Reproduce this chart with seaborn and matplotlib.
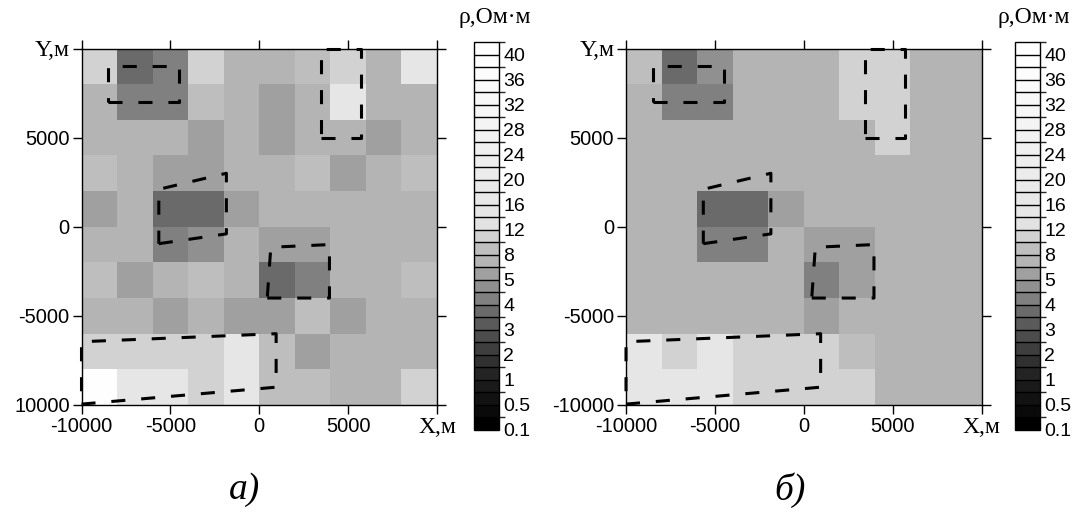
import numpy as np
import pandas as pd
import matplotlib
matplotlib.use("Agg")
import matplotlib.pyplot as plt
import seaborn as sns
from matplotlib.colors import ListedColormap, BoundaryNorm
from matplotlib.transforms import Affine2D

sns.set_theme(style="white")
plt.rcParams['font.family'] = ['Liberation Sans', 'DejaVu Sans']

# ---------------- data ----------------
cell_size = 2000
x_centers = list(range(-9000, 10000, 2000))            # west -> east
y_centers = list(range(9000, -10000, -2000))           # north -> south

# resistivity, Ohm*m (rows north -> south, columns west -> east)
rho_a = [
    [11, 3.7, 4.2, 11, 7, 7, 9, 11, 7, 15],
    [7, 4.2, 4.2, 9, 7, 5.5, 7, 15, 7, 7],
    [7, 7, 7, 5.5, 7, 5.5, 7, 7, 5.5, 7],
    [9, 7, 5.5, 5.5, 7, 7, 9, 5.5, 7, 9],
    [5.5, 7, 3.7, 3.7, 5.5, 7, 7, 7, 7, 7],
    [7, 7, 4.2, 4.7, 7, 5.5, 5.5, 7, 7, 7],
    [9, 5.5, 7, 9, 7, 3.7, 4.2, 7, 7, 9],
    [7, 7, 5.5, 7, 5.5, 5.5, 9, 5.5, 7, 7],
    [11, 11, 11, 11, 15, 9, 5.5, 7, 7, 7],
    [39, 15, 15, 11, 15, 9, 9, 7, 7, 11],
]
rho_b = [
    [9, 3.7, 4.7, 7, 7, 7, 11, 11, 7, 7],
    [7, 4.2, 4.2, 7, 7, 7, 11, 11, 7, 7],
    [7, 7, 7, 7, 7, 7, 7, 11, 7, 7],
    [7, 7, 7, 7, 7, 7, 7, 7, 7, 7],
    [7, 7, 3.7, 3.7, 5.5, 7, 7, 7, 7, 7],
    [7, 7, 4.2, 4.2, 7, 5.5, 5.5, 7, 7, 7],
    [7, 7, 7, 7, 7, 4.2, 5.5, 7, 7, 7],
    [7, 7, 7, 7, 7, 5.5, 7, 7, 7, 7],
    [15, 11, 15, 11, 11, 11, 9, 7, 7, 7],
    [15, 15, 15, 11, 11, 11, 11, 7, 7, 7],
]

# contour levels of the colour scale and their grey tones (0..255)
levels = [0.1, 0.3, 0.5, 0.75, 1, 1.5, 2, 2.5, 3, 3.5, 4, 4.5, 5, 6.5, 8, 10,
          12, 14, 16, 18, 20, 22, 24, 26, 28, 30, 32, 34, 36, 38, 40, 44]
greys = [0, 10, 18, 26, 36, 48, 62, 76, 90, 106, 128, 144, 160, 180, 190, 210,
         226, 230, 232, 234, 236, 238, 240, 242, 244, 246, 248, 250, 252, 254, 255]
cbar_ticks = [0.1, 0.5, 1, 2, 3, 4, 5, 8, 12, 16, 20, 24, 28, 32, 36, 40]
cbar_labels = ["0.1", "0.5", "1", "2", "3", "4", "5", "8", "12", "16", "20",
               "24", "28", "32", "36", "40"]

x_ticks = [-10000, -5000, 0, 5000, 10000]
x_ticklabels = ["-10000", "-5000", "0", "5000", "X,м"]
y_ticks = [-10000, -5000, 0, 5000, 10000]
y_ticklabels_a = ["10000", "-5000", "0", "5000", "Y,м"]
y_ticklabels_b = ["-10000", "-5000", "0", "5000", "Y,м"]

# outlines of the model bodies (x, y in metres)
body1_x = [-8500, -4500, -4500, -8500, -8500]
body1_y = [7000, 7000, 9000, 9000, 7000]
body2_x = [3450, 5700, 5700, 3450, 3450]
body2_y = [5000, 5000, 10000, 10000, 5000]
body3_x = [-5650, -1850, -1850, -5650, -5650]
body3_y = [-950, -400, 3000, 2100, -950]
body4_x = [450, 3950, 3950, 650, 450]
body4_y = [-4000, -4000, -1000, -1150, -4000]
body5_x = [-10000, 950, 950, -10000, -10000]
body5_y = [-9950, -9000, -6000, -6450, -9950]
bodies = [(body1_x, body1_y), (body2_x, body2_y), (body3_x, body3_y),
          (body4_x, body4_y), (body5_x, body5_y)]

cbar_title = "ρ,Ом·м"
panel_titles = ["а)", "б)"]

# ---------------- figure ----------------
W, H = 1075, 518
fig = plt.figure(figsize=(W / 100, H / 100), dpi=100)


def rect(x0, y0, x1, y1):
    return [x0 / W, 1 - y1 / H, (x1 - x0) / W, (y1 - y0) / H]


cmap = ListedColormap([(g / 255, g / 255, g / 255) for g in greys])
norm = BoundaryNorm(levels, cmap.N)

panels = [
    dict(data=rho_a, ylabels=y_ticklabels_a, ax=(81.5, 48.5, 437, 405),
         cax=(474, 42, 499, 430), title_xy=(244, 490), cbt_x=495),
    dict(data=rho_b, ylabels=y_ticklabels_b, ax=(626, 48.5, 981.5, 405),
         cax=(1015, 42, 1040, 430), title_xy=(790, 490), cbt_x=1034),
]

serif = ['Liberation Serif', 'DejaVu Serif']

for i, p in enumerate(panels):
    ax = fig.add_axes(rect(*p["ax"]))
    cax = fig.add_axes(rect(*p["cax"]))
    df = pd.DataFrame(p["data"], index=y_centers, columns=x_centers)
    sns.heatmap(df, ax=ax, cmap=cmap, norm=norm, cbar_ax=cax,
                cbar_kws=dict(ticks=cbar_ticks, drawedges=True),
                xticklabels=False, yticklabels=False)
    ax.set_xlabel("")
    ax.set_ylabel("")
    n_rows, n_cols = df.shape
    # metres -> heatmap cell coordinates
    tr = (Affine2D().scale(1 / cell_size, -1 / cell_size)
          .translate(n_cols / 2, n_rows / 2) + ax.transData)
    to_cx = lambda v: v / cell_size + n_cols / 2
    to_cy = lambda v: -v / cell_size + n_rows / 2

    for bx, by in bodies:
        ax.plot(bx, by, transform=tr, color='black', lw=2.2,
                linestyle=(0, (4.6, 5.2)), dash_capstyle='butt',
                clip_on=False, zorder=5)

    ax.set_xlim(0, n_cols)
    ax.set_ylim(n_rows, 0)
    ax.set_xticks([to_cx(v) for v in x_ticks])
    ax.set_xticklabels(x_ticklabels, rotation=0)
    ax.set_yticks([to_cy(v) for v in y_ticks])
    ax.set_yticklabels(p["ylabels"], rotation=0)
    ax.tick_params(axis='both', which='major', direction='out', length=6.5,
                   width=1, color='black', top=True, right=True, bottom=True,
                   left=True, labeltop=False, labelright=False,
                   labelsize=14.5, labelcolor='black', pad=2)
    for s in ax.spines.values():
        s.set_visible(True)
        s.set_color('black')
        s.set_linewidth(1)
    xl = ax.get_xticklabels()[-1]
    xl.set_fontfamily(serif)
    xl.set_fontsize(17)
    yl = ax.get_yticklabels()[-1]
    yl.set_fontfamily(serif)
    yl.set_fontsize(17)

    cb = ax.collections[0].colorbar
    cb.set_ticks(cbar_ticks, labels=cbar_labels)
    cb.outline.set_visible(True)
    cb.outline.set_edgecolor('black')
    cb.outline.set_linewidth(1)
    cb.dividers.set_color('black')
    cb.dividers.set_linewidth(1)
    cb.ax.tick_params(length=0, labelsize=14, pad=3, labelcolor='black')

    fig.text(p["cbt_x"] / W, 1 - 18 / H, cbar_title, family=serif,
             fontsize=17, ha='center', va='center', color='black')
    tx, ty = p["title_xy"]
    fig.text(tx / W, 1 - ty / H, panel_titles[i], family=serif,
             style='italic', fontsize=27, ha='center', va='center',
             color='black')

fig.savefig("out.png", dpi=100, facecolor='white')
